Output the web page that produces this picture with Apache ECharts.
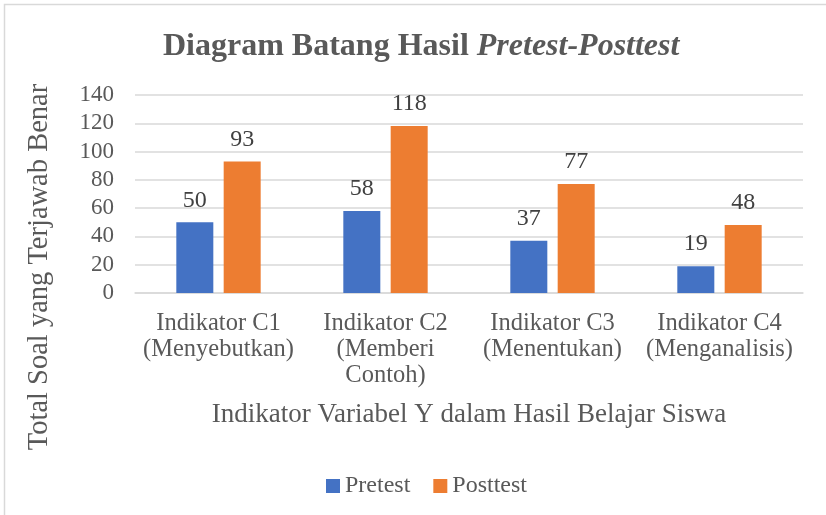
<!DOCTYPE html>
<html>
<head>
<meta charset="utf-8">
<script src="https://cdn.jsdelivr.net/npm/echarts@6/dist/echarts.min.js"></script>
<style>
html,body{margin:0;padding:0;background:#fff;}
#main{width:826px;height:515px;}
</style>
</head>
<body>
<div id="main"></div>
<script>
var categories = [
  "Indikator C1\n(Menyebutkan)",
  "Indikator C2\n(Memberi\nContoh)",
  "Indikator C3\n(Menentukan)",
  "Indikator C4\n(Menganalisis)"
];
var pretest = [50, 58, 37, 19];
var posttest = [93, 118, 77, 48];
var seriesNames = ["Pretest", "Posttest"];
var yMin = 0, yMax = 140, yStep = 20;
var xAxisTitle = "Indikator Variabel Y dalam Hasil Belajar Siswa";
var yAxisTitle = "Total Soal yang Terjawab Benar";

var FONT = "'Liberation Serif', 'Times New Roman', serif";
var TXT = "#595959";
var chart = echarts.init(document.getElementById('main'), null, {renderer: 'canvas'});
chart.setOption({
  backgroundColor: '#ffffff',
  animation: false,
  title: {
    text: '{b|Diagram Batang Hasil }{i|Pretest-Posttest}',
    left: 158,
    top: 26,
    textStyle: {
      rich: {
        b: {fontFamily: FONT, fontWeight: 'bold', fontSize: 32, color: TXT},
        i: {fontFamily: FONT, fontWeight: 'bold', fontStyle: 'italic', fontSize: 32, color: TXT}
      }
    }
  },
  graphic: [{
    type: 'rect', silent: true,
    shape: {x: 4.5, y: 4.5, width: 830, height: 520},
    style: {fill: 'none', stroke: '#d9d9d9', lineWidth: 1.5}
  }],
  legend: {
    data: seriesNames,
    bottom: 12,
    left: 321,
    itemWidth: 14,
    itemHeight: 14,
    itemGap: 23,
    icon: 'rect',
    textStyle: {fontFamily: FONT, fontSize: 24, color: TXT}
  },
  grid: {left: 135, right: 23, top: 95, bottom: 222, containLabel: false},
  xAxis: {
    type: 'category',
    data: categories,
    name: xAxisTitle,
    nameLocation: 'middle',
    nameGap: 108,
    nameTextStyle: {fontFamily: FONT, fontSize: 27, color: TXT},
    axisLine: {lineStyle: {color: '#d9d9d9', width: 1.5}},
    axisTick: {show: false},
    axisLabel: {fontFamily: FONT, fontSize: 24.5, color: TXT, lineHeight: 26, margin: 18, interval: 0}
  },
  yAxis: {
    type: 'value',
    min: yMin, max: yMax, interval: yStep,
    name: yAxisTitle,
    nameLocation: 'middle',
    nameGap: 81,
    nameRotate: 90,
    nameTextStyle: {fontFamily: FONT, fontSize: 28.5, color: TXT, padding: [0, 146, 0, 0]},
    axisLine: {show: false},
    axisTick: {show: false},
    splitLine: {lineStyle: {color: '#d9d9d9', width: 1.5}},
    axisLabel: {fontFamily: FONT, fontSize: 23, color: TXT, margin: 21}
  },
  series: [
    {
      name: seriesNames[0], type: 'bar', data: pretest,
      barWidth: 37, barGap: '28%',
      itemStyle: {color: '#4472c4'},
      label: {show: true, position: 'top', distance: 10, fontFamily: FONT, fontSize: 24, color: '#404040'}
    },
    {
      name: seriesNames[1], type: 'bar', data: posttest,
      barWidth: 37,
      itemStyle: {color: '#ed7d31'},
      label: {show: true, position: 'top', distance: 10, fontFamily: FONT, fontSize: 24, color: '#404040'}
    }
  ]
});
</script>
</body>
</html>
